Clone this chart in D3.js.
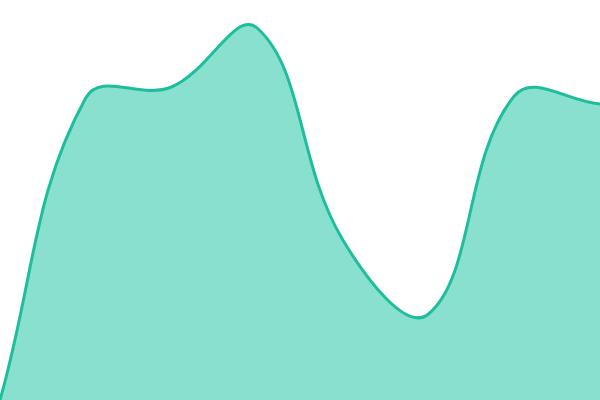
<!DOCTYPE html>
<html><head><meta charset="utf-8">
<script src="https://cdn.jsdelivr.net/npm/d3@7"></script>
<style>html,body{margin:0;padding:0;background:#fff;}svg{display:block;}</style>
</head><body>
<svg id="c" width="600" height="400"></svg>
<script>
const categories = [0,1,2,3,4,5,6,7];
const values = [0, 75.5, 78.25, 93, 40, 21.5, 76, 74];
const W = 600, H = 400;
const x = d3.scaleLinear().domain([0, categories.length - 1]).range([0, W]);
const y = d3.scaleLinear().domain([0, 100]).range([H, 0]);
const data = categories.map((c, i) => ({c, v: values[i]}));
const svg = d3.select("#c");

function tensionCurve(t, area) {
  return function(context) {
    return {
      areaStart() { this._line = 0; },
      areaEnd() { this._line = NaN; },
      lineStart() { this._p = []; },
      point(px, py) { this._p.push([+px, +py]); },
      lineEnd() {
        const p = this._p, n = p.length;
        if (!n) return;
        if (this._line) context.lineTo(p[0][0], p[0][1]); else context.moveTo(p[0][0], p[0][1]);
        const cp = p.map((cur, i) => {
          const prev = p[Math.max(i - 1, 0)], next = p[Math.min(i + 1, n - 1)];
          const d01 = Math.hypot(cur[0]-prev[0], cur[1]-prev[1]);
          const d12 = Math.hypot(next[0]-cur[0], next[1]-cur[1]);
          let s01 = d01 / (d01 + d12), s12 = d12 / (d01 + d12);
          s01 = isNaN(s01) ? 0 : s01; s12 = isNaN(s12) ? 0 : s12;
          const fa = t * s01, fb = t * s12;
          return {
            c1: [cur[0] - fa*(next[0]-prev[0]), cur[1] - fa*(next[1]-prev[1])],
            c2: [cur[0] + fb*(next[0]-prev[0]), cur[1] + fb*(next[1]-prev[1])]
          };
        });
        const cap = (v, a, b) => Math.max(Math.min(v, b), a);
        cp.forEach(c => {
          c.c1 = [cap(c.c1[0], area[0], area[2]), cap(c.c1[1], area[1], area[3])];
          c.c2 = [cap(c.c2[0], area[0], area[2]), cap(c.c2[1], area[1], area[3])];
        });
        for (let i = 1; i < n; i++) {
          context.bezierCurveTo(cp[i-1].c2[0], cp[i-1].c2[1], cp[i].c1[0], cp[i].c1[1], p[i][0], p[i][1]);
        }
        if (this._line || (this._line !== 0 && n === 1)) context.closePath();
        this._line = 1 - this._line;
      }
    };
  };
}
const curve = tensionCurve(0.4, [0, 0, W, H]);
svg.append("path").datum(data)
  .attr("fill", "#8ae0cf")
  .attr("d", d3.area().x(d => x(d.c)).y0(H).y1(d => y(d.v)).curve(curve));
svg.append("path").datum(data)
  .attr("fill", "none").attr("stroke", "#1dbe9c").attr("stroke-width", 3)
  .attr("stroke-linejoin", "round")
  .attr("d", d3.line().x(d => x(d.c)).y(d => y(d.v)).curve(curve));
</script>
</body></html>
